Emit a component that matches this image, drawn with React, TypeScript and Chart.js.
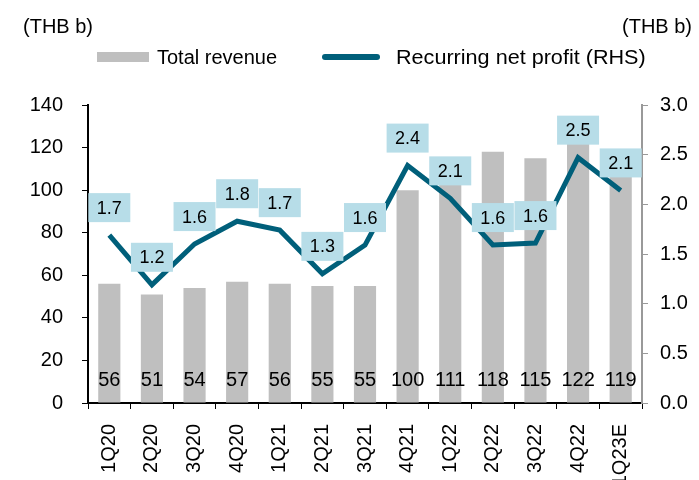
import React, { useEffect, useRef } from "react";
import { Chart, registerables } from "chart.js";

Chart.register(...registerables);

const categories = ["1Q20", "2Q20", "3Q20", "4Q20", "1Q21", "2Q21", "3Q21", "4Q21", "1Q22", "2Q22", "3Q22", "4Q22", "1Q23E"];
const revenue = [56, 51, 54, 57, 56, 55, 55, 100, 111, 118, 115, 122, 119];
const profit = [1.69, 1.19, 1.6, 1.83, 1.74, 1.3, 1.59, 2.39, 2.06, 1.59, 1.61, 2.47, 2.14];
const leftAxisTitle = "(THB b)";
const rightAxisTitle = "(THB b)";
const revenueLabel = "Total revenue";
const profitLabel = "Recurring net profit (RHS)";

const FONT = "'Liberation Sans', Arial, sans-serif";
const BAR_COLOR = "#bfbfbf";
const LINE_COLOR = "#005f7a";
const BOX_COLOR = "#b7dde8";

const labelsPlugin = {
  id: "customLabels",
  afterDatasetsDraw(chart: any) {
    const ctx = chart.ctx;
    const y0 = chart.scales.y.getPixelForValue(0);
    ctx.save();
    const barMeta = chart.getDatasetMeta(1);
    ctx.font = `20px ${FONT}`;
    ctx.fillStyle = "#000";
    ctx.textAlign = "center";
    ctx.textBaseline = "middle";
    barMeta.data.forEach((el: any, i: number) => {
      ctx.fillText(String(revenue[i]), el.x, y0 - 23);
    });
    const lineMeta = chart.getDatasetMeta(0);
    ctx.font = `18px ${FONT}`;
    lineMeta.data.forEach((pt: any, i: number) => {
      const w = 42;
      const h = 29;
      const bx = pt.x - w / 2;
      const by = pt.y - 13 - h;
      ctx.fillStyle = BOX_COLOR;
      ctx.fillRect(bx, by, w, h);
      ctx.fillStyle = "#000";
      ctx.fillText(profit[i].toFixed(1), pt.x, by + h / 2 + 1);
    });
    ctx.restore();
  },
  afterDraw(chart: any) {
    const ctx = chart.ctx;
    ctx.save();
    ctx.fillStyle = "#000";
    ctx.font = `20px ${FONT}`;
    ctx.textBaseline = "middle";
    ctx.textAlign = "left";
    ctx.fillText(leftAxisTitle, 23, 27);
    ctx.textAlign = "right";
    ctx.fillText(rightAxisTitle, 692, 27);
    ctx.textAlign = "left";
    ctx.fillStyle = BAR_COLOR;
    ctx.fillRect(97, 52, 52, 10);
    ctx.fillStyle = "#000";
    ctx.fillText(revenueLabel, 157, 58);
    ctx.strokeStyle = LINE_COLOR;
    ctx.lineWidth = 6;
    ctx.lineCap = "round";
    ctx.beginPath();
    ctx.moveTo(325, 57);
    ctx.lineTo(377, 57);
    ctx.stroke();
    ctx.save();
    ctx.translate(396, 58);
    ctx.scale(1.08, 1);
    ctx.fillText(profitLabel, 0, 0);
    ctx.restore();
    ctx.restore();
  },
};

export default function App() {
  const ref = useRef<HTMLCanvasElement | null>(null);
  useEffect(() => {
    document.body.style.margin = "0";
    if (!ref.current) return;
    const chart = new Chart(ref.current, {
      type: "bar",
      data: {
        labels: categories,
        datasets: [
          {
            type: "line",
            label: profitLabel,
            data: profit,
            yAxisID: "y1",
            borderColor: LINE_COLOR,
            backgroundColor: LINE_COLOR,
            borderWidth: 5,
            pointRadius: 0,
            tension: 0,
            borderJoinStyle: "miter",
            borderCapStyle: "butt",
            order: 0,
          } as any,
          {
            type: "bar",
            label: revenueLabel,
            data: revenue,
            yAxisID: "y",
            backgroundColor: BAR_COLOR,
            categoryPercentage: 1,
            barPercentage: 0.52,
            order: 1,
          },
        ],
      },
      options: {
        responsive: false,
        animation: false,
        layout: { padding: { top: 105, left: 0, right: 0, bottom: 0 } },
        plugins: { legend: { display: false }, tooltip: { enabled: false } },
        scales: {
          x: {
            grid: { drawOnChartArea: false, drawTicks: true, tickLength: 6, color: "#000", offset: true },
            border: { color: "#000", width: 2 },
            ticks: { color: "#000", font: { family: FONT, size: 20 }, minRotation: 90, maxRotation: 90, padding: 15, autoSkip: false },
            afterFit: (s: any) => { s.height = 77; },
          },
          y: {
            position: "left",
            min: 0,
            max: 140,
            ticks: { stepSize: 20, color: "#000", font: { family: FONT, size: 20 }, padding: 19 },
            grid: { drawOnChartArea: false, drawTicks: true, tickLength: 6, color: "#000" },
            border: { color: "#000", width: 2 },
            afterFit: (s: any) => { s.width = 88; },
          },
          y1: {
            position: "right",
            min: 0,
            max: 3,
            ticks: { stepSize: 0.5, color: "#000", font: { family: FONT, size: 20 }, padding: 12, callback: (v: any) => Number(v).toFixed(1) },
            grid: { drawOnChartArea: false, drawTicks: true, tickLength: 6, color: "#999" },
            border: { color: "#999", width: 2 },
            afterFit: (s: any) => { s.width = 57; },
          },
        },
      },
      plugins: [labelsPlugin],
    });
    return () => chart.destroy();
  }, []);
  return (
    <div style={{ position: "absolute", left: 0, top: 0, width: 699, height: 480 }}>
      <canvas ref={ref} width={699} height={480} style={{ width: 699, height: 480 }} />
    </div>
  );
}
